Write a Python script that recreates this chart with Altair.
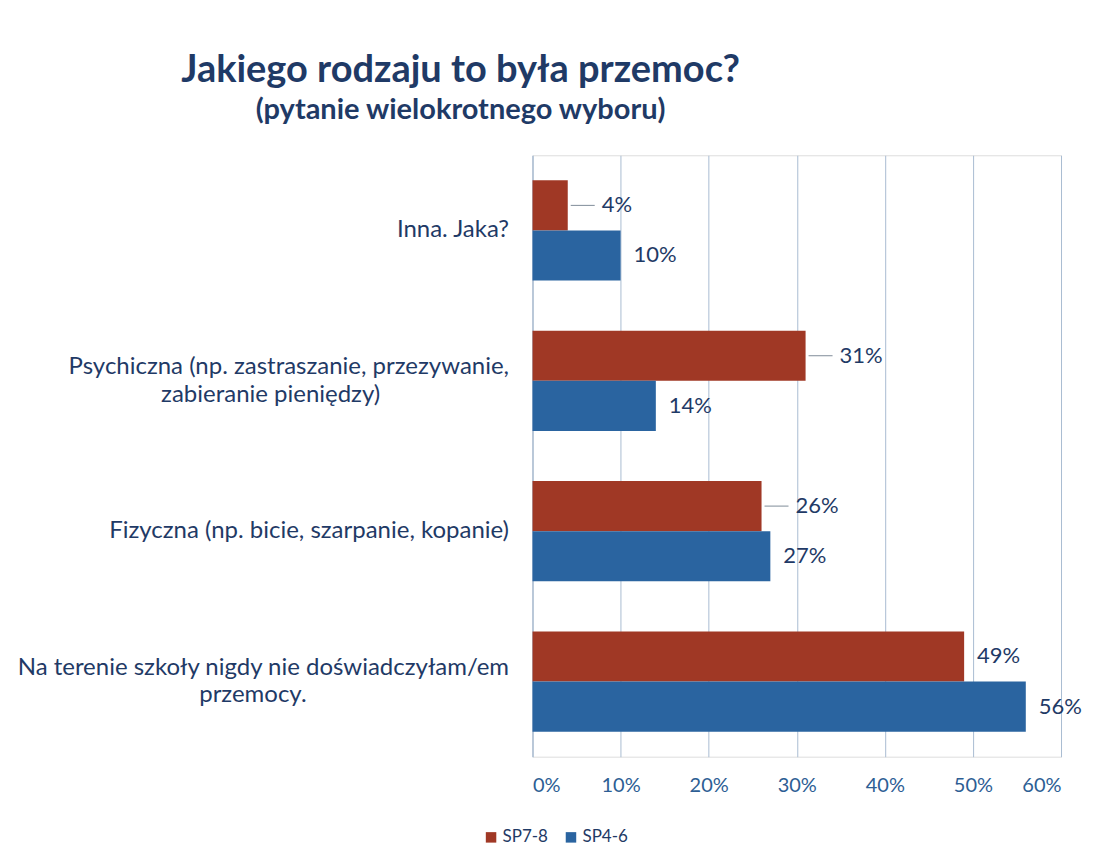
import altair as alt
import pandas as pd

NB = "\u00a0"
ZW = "\u200b"

categories = [
    "Inna. Jaka?",
    "Psychiczna (np. zastraszanie, przezywanie,\nzabieranie pieniędzy)" + NB * 21 + ZW,
    "Fizyczna (np. bicie, szarpanie, kopanie)",
    "Na terenie szkoły nigdy nie doświadczyłam/em\nprzemocy." + NB * 33 + ZW,
]
series = ["SP7-8", "SP4-6"]
sp78 = [4, 31, 26, 49]
sp46 = [10, 14, 27, 56]
leader = [True, True, True, False]  # SP7-8 labels drawn with a leader line

rows = []
for i, c in enumerate(categories):
    rows.append({"cat": c, "series": "SP7-8", "value": sp78[i], "leader": leader[i]})
    rows.append({"cat": c, "series": "SP4-6", "value": sp46[i], "leader": False})
df = pd.DataFrame(rows)
df["label"] = df["value"].astype(str) + "%"

FONT = "Lato"
TXT = "#1F3A66"
RED = "#A03825"
BLUE = "#2A64A0"
GRID = "#A9BCD2"

y_enc = alt.Y(
    "cat:N",
    sort=categories,
    scale=alt.Scale(paddingInner=0.3333, paddingOuter=0.1667),
    axis=alt.Axis(
        title=None,
        labelExpr="split(datum.label, '\\n')",
        labelAlign="right",
        labelPadding=24,
        labelFontSize=24,
        labelFont=FONT,
        labelColor=TXT,
        labelLimit=600,
        labelLineHeight=28,
        labelOffset={
            "condition": {"test": "indexof(datum.value, '\\n') >= 0", "value": -14},
            "value": 0,
        },
        ticks=False,
        domain=True,
        domainColor=GRID,
        grid=False,
    ),
)
yoff = alt.YOffset("series:N", sort=series, scale=alt.Scale(paddingInner=0, paddingOuter=0))
x_enc = alt.X(
    "value:Q",
    scale=alt.Scale(domain=[0, 60], nice=False),
    axis=alt.Axis(
        title=None,
        values=[0, 10, 20, 30, 40, 50, 60],
        labelExpr="datum.value + '%'",
        labelFontSize=20,
        labelFont=FONT,
        labelColor="#2D5E94",
        labelPadding=19,
        ticks=False,
        domain=False,
        grid=True,
        gridColor=GRID,
        gridWidth=1,
    ),
)

bars = alt.Chart(df).mark_bar().encode(
    x=x_enc,
    y=y_enc,
    yOffset=yoff,
    color=alt.Color(
        "series:N",
        sort=series,
        scale=alt.Scale(domain=series, range=[RED, BLUE]),
        legend=alt.Legend(
            title=None,
            orient="none",
            legendX=-50,
            legendY=674,
            direction="horizontal",
            symbolType="square",
            symbolSize=110,
            symbolStrokeWidth=0,
            labelFontSize=17,
            labelFont=FONT,
            labelColor=TXT,
            columnPadding=14,
            labelOffset=3,
        ),
    ),
)

base = alt.Chart(df).encode(
    x="value:Q",
    y=alt.Y("cat:N", sort=categories),
    yOffset=alt.YOffset("series:N", sort=series),
    text="label:N",
)

labels_plain = base.transform_filter("!datum.leader").mark_text(
    align="left", baseline="middle", dx=13, fontSize=22, font=FONT, color=TXT
)
labels_leader = base.transform_filter("datum.leader").mark_text(
    align="left", baseline="middle", dx=34, fontSize=22, font=FONT, color=TXT
)
leaders = (
    alt.Chart(df)
    .transform_filter("datum.leader")
    .mark_rule(color="#7F8C99", strokeWidth=1, xOffset=3, x2Offset=27)
    .encode(
        x="value:Q",
        x2="value:Q",
        y=alt.Y("cat:N", sort=categories),
        yOffset=alt.YOffset("series:N", sort=series),
    )
)

chart = (
    alt.layer(bars, leaders, labels_plain, labels_leader)
    .properties(
        width=529,
        height=602,
        title=alt.TitleParams(
            text="Jakiego rodzaju to była przemoc?",
            subtitle="(pytanie wielokrotnego wyboru)",
            anchor="start",
            frame="group",
            align="center",
            dx=-72,
            offset=30,
            font=FONT,
            fontSize=38,
            fontWeight="bold",
            color=TXT,
            subtitleFont=FONT,
            subtitleFontSize=29,
            subtitleFontWeight="bold",
            subtitleColor=TXT,
            subtitlePadding=6,
        ),
        autosize=alt.AutoSizeParams(type="none"),
        padding={"left": 525, "top": 147, "right": 30, "bottom": 100},
    )
    .configure_view(stroke=None)
    .configure(background="white")
)

chart.save("out.html", embed_options={"renderer": "svg", "actions": False})
